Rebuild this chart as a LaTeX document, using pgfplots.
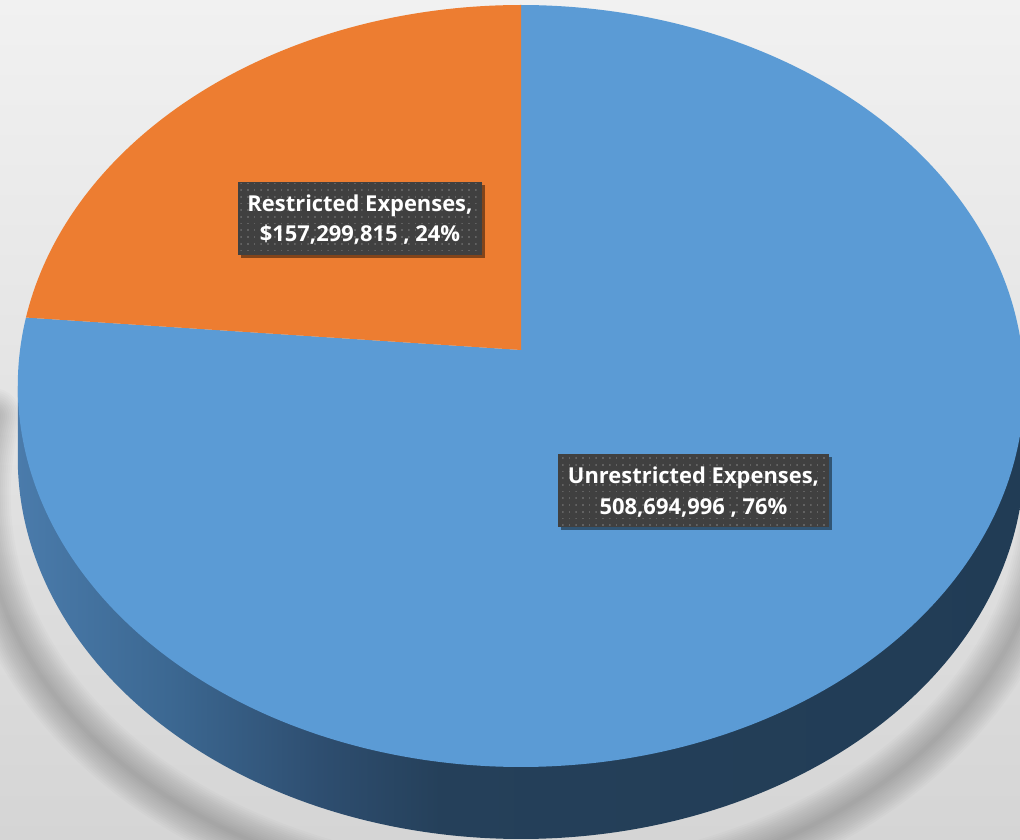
\documentclass[border=0pt]{standalone}
\usepackage{fontspec}
\setmainfont{Open Sans}
\usepackage{pgfplots}
\pgfplotsset{compat=1.18}
\usepackage{pgfplotstable}
\usetikzlibrary{shadows,patterns.meta}

\definecolor{bgTop}{HTML}{F1F1F1}
\definecolor{bgBot}{HTML}{D5D5D5}
\definecolor{pieBlue}{HTML}{5B9BD5}
\definecolor{pieOrange}{HTML}{ED7D31}
\definecolor{lblFill}{HTML}{404040}
\definecolor{lblDot}{HTML}{626262}
\definecolor{sideA}{HTML}{4A7BAB}
\definecolor{sideB}{HTML}{3C6892}
\definecolor{sideC}{HTML}{2E4E70}
\definecolor{sideD}{HTML}{25405A}
\definecolor{sideE}{HTML}{213C55}

\pgfdeclarehorizontalshading{sideshade}{100bp}{color(0bp)=(sideA); color(25bp)=(sideA); color(32.5bp)=(sideB); color(40bp)=(sideC); color(46bp)=(sideD); color(75bp)=(sideE); color(100bp)=(sideE)}

\tikzdeclarepattern{
  name=ldots,
  type=uncolored,
  bounding box={(-0.9bp,-0.9bp) and (0.9bp,0.9bp)},
  tile size={(6.7bp,6.7bp)},
  code={\pgfpathrectangle{\pgfpoint{-0.85bp}{-0.85bp}}{\pgfpoint{1.7bp}{1.7bp}}\pgfusepath{fill}}
}

\pgfplotstableread{
label value
Restricted 157299815
Unrestricted 508694996
}\piedata
\pgfplotstablegetelem{0}{value}\of\piedata \let\vR\pgfplotsretval
\pgfplotstablegetelem{1}{value}\of\piedata \let\vU\pgfplotsretval
\pgfkeys{/pgf/fpu=true,/pgf/fpu/output format=fixed}
\pgfmathsetmacro\tA{90+360*\vR/(\vR+\vU)}
\pgfkeys{/pgf/fpu=false}

% perspective ellipse: x = 521 + 501 cos t / (1+k sin t), y = 490 + 377.6 sin t/(1+k sin t)
\newcommand\PX[1]{521+501*cos(#1)/(1+0.0945*sin(#1))}
\newcommand\PY[1]{490+377.6*sin(#1)/(1+0.0945*sin(#1))}

\tikzset{lbl/.style={fill=lblFill, text=white,
  font=\bfseries\fontsize{22}{30.7}\selectfont, align=center,
  inner xsep=0pt, inner ysep=0pt, minimum height=73bp,
  text height=50.4bp, text depth=4bp,
  drop shadow={shadow xshift=3bp, shadow yshift=-3bp, opacity=0.45, fill=black},
  postaction={pattern={ldots}, pattern color=lblDot}}}

\begin{document}
\begin{tikzpicture}
\begin{axis}[width=1020bp, height=840bp, scale only axis,
  xmin=0, xmax=1020, ymin=0, ymax=840, hide axis, clip=true,
  samples=300, no markers]
% background
\addplot[draw=none, top color=bgTop, bottom color=bgBot] coordinates {(0,0) (1020,0) (1020,840) (0,840)} -- cycle;
% soft shadow below the rim
\pgfplotsinvokeforeach{4,8,12,16,20,24,28,32,36,40,44,48,52,56}{
\addplot[draw=black, opacity=0.016, line width=#1bp, line cap=round, domain=174:372, variable=\t]
  ({515+530*cos(\t)/(1+0.0945*sin(\t))}, {490-72-35+395*sin(\t)/(1+0.0945*sin(\t))});
}
% side
\addplot[draw=none, shading=sideshade, domain=185.42:354.58, variable=\t]
  ({\PX{\t}}, {\PY{\t}-72}) -- (axis cs:1024.25,454) -- (axis cs:17.75,454) -- cycle;
% unrestricted slice (top face)
\addplot[fill=pieBlue, draw=none, domain=\tA:450, variable=\t]
  ({\PX{\t}}, {\PY{\t}}) -- (axis cs:521,490) -- cycle;
% restricted slice
\addplot[fill=pieOrange, draw=none, domain=90:\tA, variable=\t]
  ({\PX{\t}}, {\PY{\t}}) -- (axis cs:521,490) -- cycle;
% labels
\node[lbl, minimum width=244bp] at (axis cs:360,621.5) {Restricted Expenses,\\\$157,299,815 , 24\%};
\node[lbl, minimum width=271bp] at (axis cs:693.5,349) {Unrestricted Expenses,\\508,694,996 , 76\%};
\end{axis}
\end{tikzpicture}
\end{document}
